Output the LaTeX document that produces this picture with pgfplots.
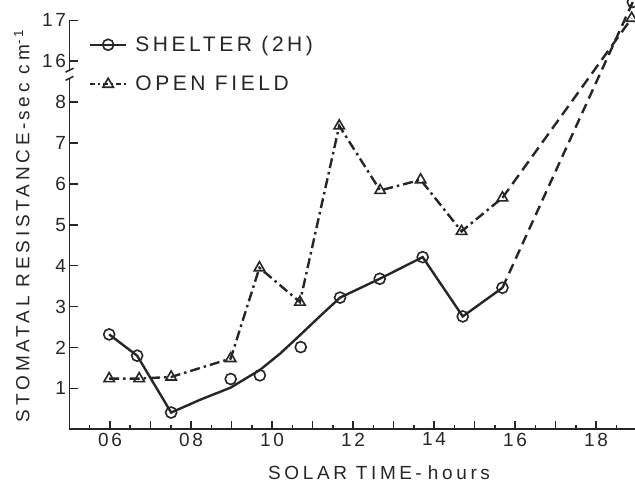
\documentclass[border=0pt]{standalone}
\usepackage{fontspec}
\setmainfont{Liberation Sans}
\newfontfamily\tickfont{Liberation Sans}[LetterSpace=14]
\newfontfamily\xlabfont{Liberation Sans}[LetterSpace=19]
\newfontfamily\ylabfont{Liberation Sans}[LetterSpace=20]
\newfontfamily\legfont{Liberation Sans}[LetterSpace=17]
\usepackage{pgfplots}
\pgfplotsset{compat=1.18}
\definecolor{ink}{HTML}{262626}

\begin{document}
\begin{tikzpicture}
\begin{axis}[
  at={(0pt,0pt)}, anchor=south west,
  scale only axis, width=567pt, height=409pt,
  xmin=5, xmax=19, ymin=0, ymax=17,
  y coord trafo/.code={\pgfmathparse{ifthenelse(#1>12,#1-7,#1)}},
  clip=false,
  axis line style={draw=none},
  xtick pos=left, ytick pos=left,
  tick style={ink, line width=1.5pt},
  tick align=inside,
  major tick length=8pt, minor tick length=4.5pt,
  xtick={6,...,18}, xticklabels={06,,08,,10,,12,,14,,16,,18},
  minor xtick={5.5,6.5,...,18.5},
  ytick={1,2,3,4,5,6,7,8,16,17}, yticklabels={1,2,3,4,5,6,7,8,16,17},
  ticklabel style={font=\tickfont\fontsize{19}{19}\selectfont, text=ink},
  xlabel={SOLAR TIME\,-\,\,hours},
  ylabel={STOMATAL RESISTANCE\,-\,sec cm\textsuperscript{-1}},
  xlabel style={font=\xlabfont\fontsize{19}{19}\selectfont, text=ink, at={(axis description cs:0.546,-0.107)}, anchor=center},
  ylabel style={font=\ylabfont\fontsize{19}{19}\selectfont, text=ink, at={(axis description cs:-0.084,0.497)}, anchor=center},
  legend style={at={(axis description cs:0.034,0.966)}, anchor=north west,
    draw=none, fill=none, font=\legfont\fontsize{21}{21}\selectfont, text=ink,
    row sep=19pt, column sep=6pt, inner sep=0pt, cells={anchor=west}},
  legend cell align=left,
  legend image code/.code={\draw[mark repeat=2,mark phase=2,#1] plot coordinates {(0pt,0pt) (18pt,0pt) (36pt,0pt)};},
]
\addlegendimage{ink, line width=2.4pt, mark=o, mark size=5.5pt, mark options={solid, fill=white, line width=1.6pt}}
\addlegendentry{SHELTER (2\,H)}
\addlegendimage{ink, line width=2.4pt, dash pattern=on 5pt off 3pt on 2pt off 3pt, mark=triangle, mark size=6pt, mark options={solid, fill=white, line width=1.6pt}}
\addlegendentry{OPEN FIELD}

% axis lines (left and bottom only)
\draw[ink, line width=1.8pt] (rel axis cs:0,1) -- (rel axis cs:0,0) -- (rel axis cs:1,0);

% shelter line (smoothed curve as drawn)
\addplot[forget plot, ink, line width=2.4pt] coordinates {
(5.98,2.32) (6.67,1.80) (7.51,0.41) (8.22,0.72) (8.98,1.02) (9.70,1.45) (10.2,1.85) (10.71,2.32) (11.2,2.78) (11.68,3.22) (12.66,3.68) (13.72,4.21) (14.71,2.76) (15.69,3.46)};
\addplot[forget plot, ink, line width=2.4pt, dash pattern=on 10pt off 6pt] coordinates {(15.69,3.46) (18.91,17.45)};
% open field line
\addplot[forget plot, ink, line width=2.4pt, dash pattern=on 10pt off 4pt on 2.5pt off 4pt] coordinates {
(5.98,1.24) (6.72,1.24) (7.51,1.28) (8.98,1.73) (9.69,3.95) (10.69,3.11) (11.66,7.42) (12.67,5.84) (13.67,6.10) (14.68,4.84) (15.69,5.66)};
\addplot[forget plot, ink, line width=2.4pt, dash pattern=on 11pt off 6pt] coordinates {(15.69,5.66) (18.88,17.05)};
% marks
\addplot[forget plot, only marks, ink, mark=triangle, mark size=6pt, mark options={solid, fill=white, line width=1.6pt}] coordinates {
(5.98,1.24) (6.72,1.24) (7.51,1.28) (8.98,1.73) (9.69,3.95) (10.69,3.11) (11.66,7.42) (12.67,5.84) (13.67,6.10) (14.68,4.84) (15.69,5.66) (18.88,17.05)};
\addplot[forget plot, only marks, ink, mark=o, mark size=5.5pt, mark options={solid, fill=white, line width=1.6pt}] coordinates {
(5.98,2.32) (6.67,1.80) (7.51,0.41) (8.98,1.23) (9.70,1.32) (10.71,2.01) (11.68,3.22) (12.66,3.68) (13.72,4.21) (14.71,2.76) (15.69,3.46) (18.91,17.45)};
% axis break
\fill[white] ([xshift=-5pt]axis cs:5,8.58) rectangle ([xshift=5pt]axis cs:5,8.78);
\draw[ink, line width=1.5pt] ([xshift=-4pt,yshift=-2pt]axis cs:5,8.78) -- ([xshift=4pt,yshift=2pt]axis cs:5,8.78);
\draw[ink, line width=1.5pt] ([xshift=-4pt,yshift=-2pt]axis cs:5,8.58) -- ([xshift=4pt,yshift=2pt]axis cs:5,8.58);
\end{axis}
\pgfresetboundingbox
\path (-69.5pt,-53.7pt) rectangle (565.5pt,429.3pt);
\end{tikzpicture}
\end{document}
